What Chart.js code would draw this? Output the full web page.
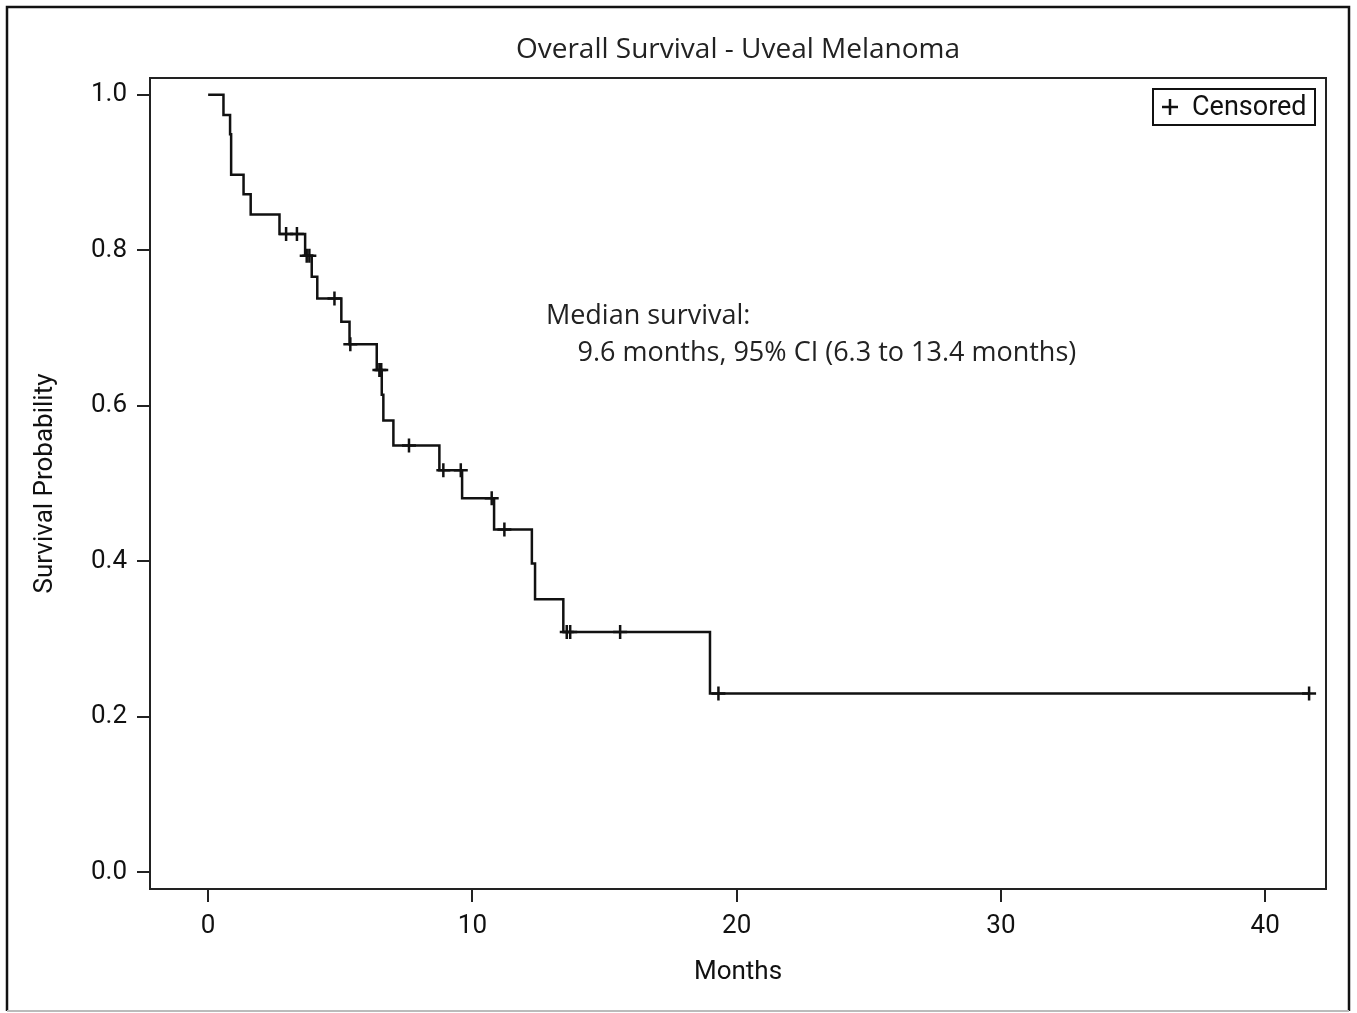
<!DOCTYPE html>
<html>
<head>
<meta charset="utf-8">
<title>Overall Survival - Uveal Melanoma</title>
<script src="https://cdn.jsdelivr.net/npm/chart.js@4.4.1/dist/chart.umd.min.js"></script>
<style>
    html, body { margin: 0; padding: 0; background: #fff; }
    #wrap { width: 1357px; height: 1013px; position: relative; }
</style>
</head>
<body>
<div id="wrap"><canvas id="kmChart"></canvas></div>
<script>
// Kaplan-Meier estimate: step points (time in months, survival probability after the event)
const eventTimes = [0, 0.58, 0.83, 0.87, 1.34, 1.61, 2.70, 3.67, 3.92, 4.13, 5.04, 5.35, 6.38, 6.57, 6.63, 7.01, 8.75, 9.61, 10.82, 12.25, 12.37, 13.44, 18.99, 41.70];
const survivalProbs = [1.0, 0.974, 0.949, 0.897, 0.872, 0.846, 0.821, 0.793, 0.766, 0.738, 0.708, 0.679, 0.646, 0.614, 0.581, 0.549, 0.517, 0.481, 0.441, 0.397, 0.351, 0.309, 0.230, 0.230];

// Censored observations
const censorTimes = [2.95, 3.36, 3.73, 3.83, 4.78, 5.38, 6.48, 6.55, 7.60, 8.90, 9.56, 10.73, 11.21, 13.57, 13.70, 15.59, 19.31, 41.66];
const censorProbs = [0.821, 0.821, 0.793, 0.793, 0.738, 0.679, 0.646, 0.646, 0.549, 0.517, 0.517, 0.481, 0.441, 0.309, 0.309, 0.309, 0.230, 0.230];

const xTicks = [0, 10, 20, 30, 40];
const yTicks = [0, 0.2, 0.4, 0.6, 0.8, 1.0];

const chartTitle = "Overall Survival - Uveal Melanoma";
const medianLines = ["Median survival:", "9.6 months, 95% CI (6.3 to 13.4 months)"];
const legendText = "Censored";

const axisFont = "Roboto";
const textFont = "'Open Sans'";

const curvePoints = eventTimes.map((t, i) => ({ x: t, y: survivalProbs[i] }));
const censorPoints = censorTimes.map((t, i) => ({ x: t, y: censorProbs[i] }));

// outer frame, plot box, legend box and median annotation
const decorations = {
    id: "decorations",
    beforeDraw(chart) {
        const c = chart.ctx;
        c.save();
        c.fillStyle = "#fff";
        c.fillRect(0, 0, chart.width, chart.height);
        c.strokeStyle = "#111";
        c.lineWidth = 2.5;
        c.beginPath();
        c.moveTo(7, 1011);
        c.lineTo(7, 7);
        c.lineTo(1349, 7);
        c.lineTo(1349, 1011);
        c.stroke();
        c.strokeStyle = "#bbb";
        c.lineWidth = 2;
        c.beginPath();
        c.moveTo(7, 1011);
        c.lineTo(1349, 1011);
        c.stroke();
        c.restore();
    },
    afterDraw(chart) {
        const c = chart.ctx;
        const area = chart.chartArea;
        c.save();
        c.strokeStyle = "#222";
        c.lineWidth = 2;
        c.strokeRect(area.left, area.top, area.right - area.left, area.bottom - area.top);

        // legend
        const lx = area.right - 173, ly = area.top + 11;
        c.strokeStyle = "#111";
        c.lineWidth = 2;
        c.strokeRect(lx, ly, 162, 36);
        c.lineWidth = 2.5;
        c.beginPath();
        c.moveTo(lx + 9, ly + 18);
        c.lineTo(lx + 25, ly + 18);
        c.moveTo(lx + 17, ly + 10);
        c.lineTo(lx + 17, ly + 26);
        c.stroke();
        c.fillStyle = "#111";
        c.font = "27px " + axisFont;
        c.textBaseline = "middle";
        c.textAlign = "left";
        c.fillText(legendText, lx + 39, ly + 19);

        // median survival note
        const xs = chart.scales.x, ys = chart.scales.y;
        c.font = "27px " + textFont;
        c.fillStyle = "#222";
        c.textBaseline = "alphabetic";
        c.fillText(medianLines[0], xs.getPixelForValue(12.78), ys.getPixelForValue(0.705));
        c.fillText(medianLines[1], xs.getPixelForValue(13.98), ys.getPixelForValue(0.658));
        c.restore();
    }
};

new Chart(document.getElementById("kmChart"), {
    type: "line",
    data: {
        datasets: [{
            label: "Survival",
            data: curvePoints,
            stepped: true,
            borderColor: "#111",
            borderWidth: 2.5,
            pointRadius: 0,
            fill: false
        }, {
            label: legendText,
            type: "scatter",
            data: censorPoints,
            pointStyle: "cross",
            pointRadius: 7,
            borderColor: "#111",
            borderWidth: 2.5,
            showLine: false
        }]
    },
    options: {
        responsive: true,
        maintainAspectRatio: false,
        animation: false,
        devicePixelRatio: 1,
        layout: { padding: { left: 0, top: 0, right: 31, bottom: 0 } },
        plugins: {
            legend: { display: false },
            tooltip: { enabled: false },
            title: {
                display: true,
                fullSize: false,
                text: chartTitle,
                color: "#222",
                font: { family: textFont, size: 28, weight: "normal" },
                padding: { top: 33.2, bottom: 11.2 }
            }
        },
        scales: {
            x: {
                type: "linear",
                min: -2.2,
                max: 42.3,
                afterBuildTicks: scale => { scale.ticks = xTicks.map(v => ({ value: v })); },
                afterFit: scale => { scale.height = 124; },
                ticks: {
                    color: "#111",
                    font: { family: axisFont, size: 26 },
                    padding: 9,
                    maxRotation: 0
                },
                grid: { drawOnChartArea: false, drawTicks: true, tickLength: 13, color: "#222", lineWidth: 2 },
                border: { display: false },
                title: {
                    display: true,
                    text: "Months",
                    color: "#111",
                    font: { family: axisFont, size: 26 },
                    padding: { top: 0, bottom: 25 }
                }
            },
            y: {
                type: "linear",
                min: -0.0215,
                max: 1.0215,
                afterBuildTicks: scale => { scale.ticks = yTicks.map(v => ({ value: v })); },
                afterFit: scale => { scale.width = 150; },
                ticks: {
                    color: "#111",
                    font: { family: axisFont, size: 26 },
                    padding: 10,
                    callback: v => v.toFixed(1)
                },
                grid: { drawOnChartArea: false, drawTicks: true, tickLength: 13, color: "#222", lineWidth: 2 },
                border: { display: false },
                title: {
                    display: true,
                    text: "Survival Probability",
                    color: "#111",
                    font: { family: axisFont, size: 26 },
                    padding: { top: 29.5, bottom: 0 }
                }
            }
        }
    },
    plugins: [decorations]
});
</script>
</body>
</html>
